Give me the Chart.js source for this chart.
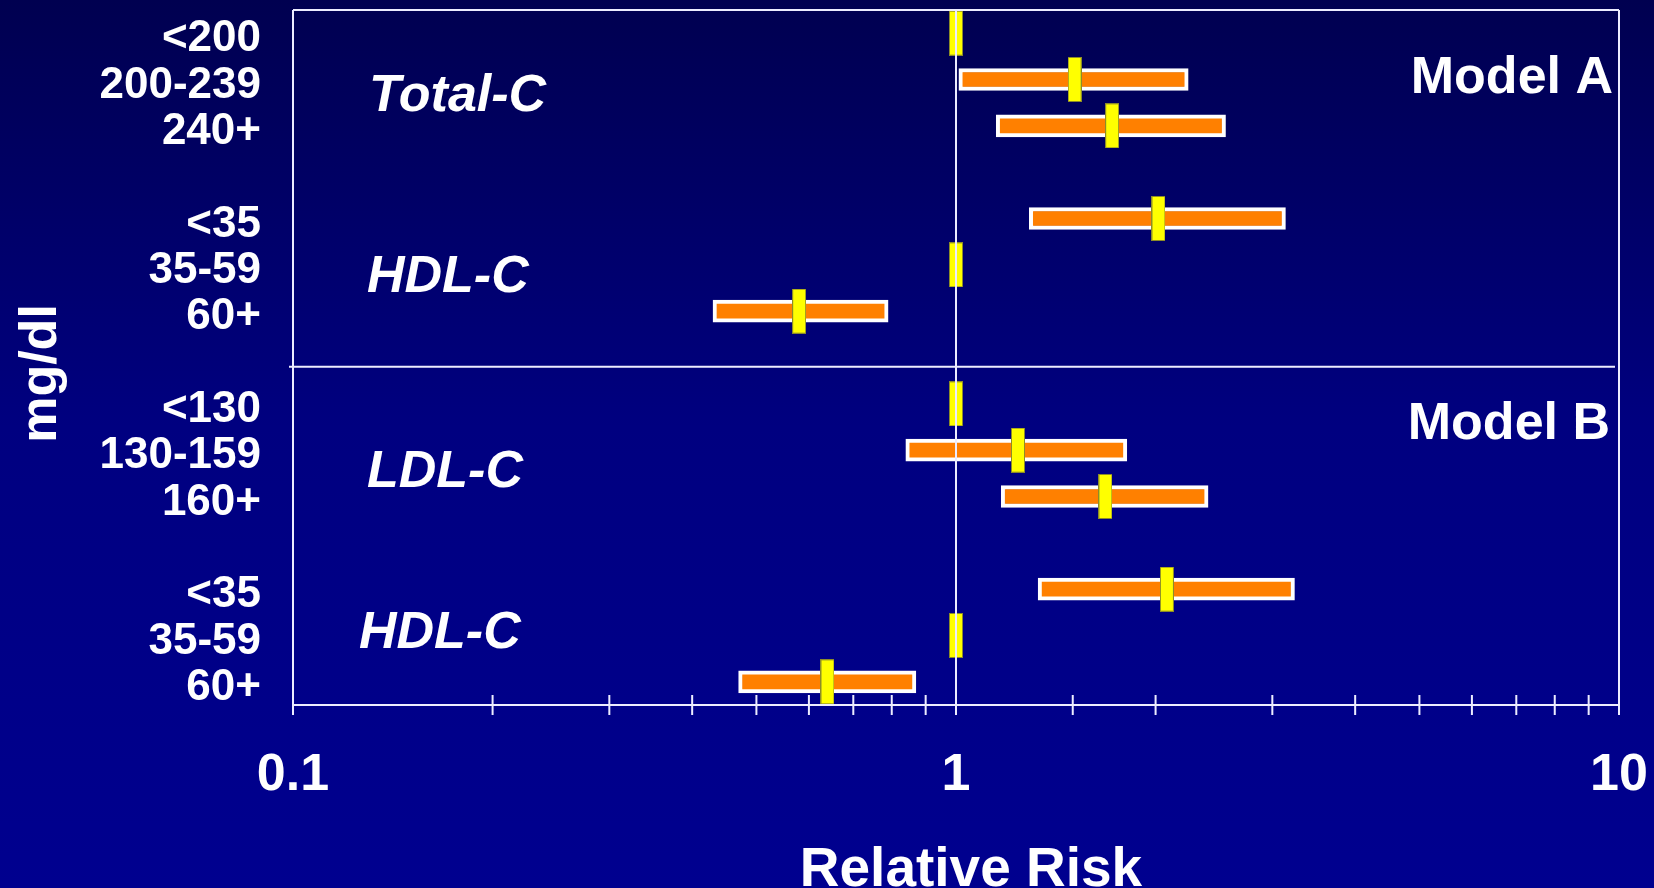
<!DOCTYPE html>
<html>
<head>
<meta charset="utf-8">
<script src="https://cdn.jsdelivr.net/npm/chart.js@4.4.0/dist/chart.umd.min.js"></script>
<style>
  html, body { margin: 0; padding: 0; }
  body {
    width: 1654px;
    height: 888px;
    overflow: hidden;
    background: linear-gradient(to bottom, #000050 0%, #000080 48%, #00008f 100%);
  }
  canvas { display: block; }
</style>
</head>
<body>
<canvas id="rr-chart" width="1654" height="888"></canvas>
<script>
// rows of the plot, top to bottom ('' = spacer row)
const rowLabels = ['<200', '200-239', '240+', '', '<35', '35-59', '60+', '', '<130', '130-159', '160+', '', '<35', '35-59', '60+'];
// relative risk point estimates
const relRisk = [1.0, 1.51, 1.72, null, 2.02, 1.0, 0.58, null, 1.0, 1.24, 1.68, null, 2.08, 1.0, 0.64];
// confidence interval bounds
const ciLow = [null, 1.01, 1.15, null, 1.29, null, 0.43, null, null, 0.84, 1.17, null, 1.33, null, 0.47];
const ciHigh = [null, 2.24, 2.55, null, 3.14, null, 0.79, null, null, 1.81, 2.40, null, 3.24, null, 0.87];
const groupNames = ['Total-C', 'HDL-C', 'LDL-C', 'HDL-C'];
const modelNames = ['Model A', 'Model B'];
const xTickLabels = ['0.1', '1', '10'];
const xTitle = 'Relative Risk';
const yTitle = 'mg/dl';

const FONT = "'Liberation Sans', Arial, sans-serif";
const LINE = '#ececff';

// yellow marker used as point style
const mark = document.createElement('canvas');
mark.width = 14;
mark.height = 45;
const mctx = mark.getContext('2d');
mctx.fillStyle = '#ffff00';
mctx.fillRect(0, 0, 14, 45);
mctx.strokeStyle = '#8c8c28';
mctx.lineWidth = 1;
mctx.strokeRect(0.5, 0.5, 13, 44);

// frame, crossing ticks, divider, reference line and the text labels
const decorPlugin = {
    id: 'decor',
    afterDatasetsDraw(chart) {
        const { ctx, chartArea: a, scales: { x, y } } = chart;
        ctx.save();
        ctx.strokeStyle = LINE;
        ctx.lineWidth = 2;

        ctx.beginPath();
        ctx.moveTo(a.left, a.top); ctx.lineTo(a.right, a.top);
        ctx.moveTo(a.left, a.top); ctx.lineTo(a.left, a.bottom + 10);
        ctx.moveTo(a.right, a.top); ctx.lineTo(a.right, a.bottom + 10);
        ctx.moveTo(a.left, a.bottom); ctx.lineTo(a.right, a.bottom);
        x.ticks.forEach((t) => {
            const px = x.getPixelForValue(t.value);
            ctx.moveTo(px, a.bottom - 10);
            ctx.lineTo(px, a.bottom + 10);
        });
        // line at RR = 1
        const one = x.getPixelForValue(1);
        ctx.moveTo(one, a.top);
        ctx.lineTo(one, a.bottom);
        // split between the two models
        const dy = y.getPixelForValue(7.2);
        ctx.moveTo(a.left - 4, dy);
        ctx.lineTo(a.right - 4, dy);
        ctx.stroke();

        ctx.fillStyle = '#ffffff';
        ctx.textBaseline = 'middle';
        ctx.textAlign = 'left';
        ctx.font = 'italic bold 52px ' + FONT;
        const groupRows = [1.36, 5.27, 9.48, 12.95];
        const groupDx = [76, 74, 74, 66];
        groupNames.forEach((name, i) => {
            ctx.fillText(name, a.left + groupDx[i], y.getPixelForValue(groupRows[i]));
        });

        ctx.textAlign = 'right';
        ctx.font = 'bold 52px ' + FONT;
        const modelRows = [0.99, 8.46];
        const modelDx = [6, 9];
        modelNames.forEach((name, i) => {
            ctx.fillText(name, a.right - modelDx[i], y.getPixelForValue(modelRows[i]));
        });

        // axis titles
        ctx.textAlign = 'center';
        ctx.font = 'bold 55px ' + FONT;
        ctx.fillText(xTitle, (a.left + a.right) / 2 + 15, a.bottom + 166);

        ctx.font = 'bold 52px ' + FONT;
        ctx.translate(42, (a.top + a.bottom) / 2 + 16);
        ctx.rotate(-Math.PI / 2);
        ctx.fillText(yTitle, 0, 0);
        ctx.restore();
    }
};

new Chart(document.getElementById('rr-chart').getContext('2d'), {
    type: 'bar',
    data: {
        labels: rowLabels,
        datasets: [
            {
                type: 'line',
                label: 'Relative risk',
                data: relRisk,
                showLine: false,
                pointStyle: mark,
                order: 0
            },
            {
                type: 'bar',
                label: 'Interval',
                data: ciLow.map((lo, i) => (lo === null ? null : [lo, ciHigh[i]])),
                backgroundColor: '#ff8000',
                borderColor: '#ffffff',
                borderWidth: 4,
                borderSkipped: false,
                barThickness: 22,
                order: 1
            }
        ]
    },
    options: {
        indexAxis: 'y',
        responsive: false,
        animation: false,
        devicePixelRatio: 1,
        layout: { padding: { top: 10, right: 35, bottom: 0, left: 0 } },
        plugins: {
            legend: { display: false },
            tooltip: { enabled: false }
        },
        scales: {
            x: {
                type: 'logarithmic',
                min: 0.1,
                max: 10,
                grid: { display: false, drawTicks: false },
                border: { display: false },
                ticks: {
                    autoSkip: false,
                    maxRotation: 0,
                    color: '#ffffff',
                    padding: 39,
                    font: { family: FONT, size: 52, weight: 'bold' },
                    callback: function(value) {
                        const e = Math.log10(value);
                        if (Math.abs(e - Math.round(e)) < 1e-9) {
                            return xTickLabels[Math.round(e) + 1];
                        }
                        return '';
                    }
                },
                afterFit: (scale) => {
                    scale.height = 183;
                    scale.paddingLeft = 0;
                    scale.paddingRight = 0;
                }
            },
            y: {
                type: 'category',
                offset: true,
                grid: { display: false, drawTicks: false },
                border: { display: false },
                ticks: {
                    autoSkip: false,
                    color: '#ffffff',
                    padding: 32,
                    labelOffset: 6,
                    font: { family: FONT, size: 44, weight: 'bold', lineHeight: 1 }
                },
                afterFit: (scale) => {
                    scale.width = 293;
                    scale.paddingTop = 0;
                    scale.paddingBottom = 0;
                }
            }
        }
    },
    plugins: [decorPlugin]
});
</script>
</body>
</html>
